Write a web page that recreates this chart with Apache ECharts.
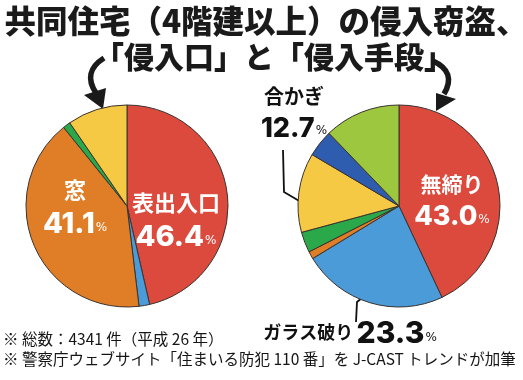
<!DOCTYPE html>
<html><head><meta charset="utf-8">
<script src="https://cdn.jsdelivr.net/npm/echarts@6/dist/echarts.min.js"></script>
<style>html,body{margin:0;padding:0;background:#fff}#c{width:523px;height:380px}</style>
</head><body><div id="c"></div>
<script>
// ---- data ----
const titleLines = ['共同住宅（4階建以上）の侵入窃盗、', '「侵入口」と「侵入手段」'];
const entryNames = ['表出入口', '非常口', '窓', 'その他', '不明'];
const entryValues = [46.4, 1.7, 41.1, 1.2, 9.6];
const methodNames = ['無締り', 'ガラス破り', '戸外し', '施錠開け', '合かぎ', 'ドア錠破り', 'その他'];
const methodValues = [43.0, 23.3, 1.2, 3.3, 12.7, 4.3, 12.2];
const footnotes = ['※ 総数：4341 件（平成 26 年）', '※ 警察庁ウェブサイト「住まいる防犯 110 番」を J-CAST トレンドが加筆'];

// ---- styles ----
const entryColors = ['#dc4a3d', '#4b9bd9', '#e07e28', '#2aa84a', '#f6c945'];
const methodColors = ['#dc4a3d', '#4b9bd9', '#e07e28', '#2aa84a', '#f6c945', '#2e5db0', '#9dc73e'];
const JP = '"Noto Sans CJK JP", sans-serif';
const NUM = 'Inter, sans-serif';

const labelTargets = [
  {0: [176, 222], 2: [75, 209]},
  {0: [452, 202], 1: [350, 334], 4: [294, 114]}
];
const labelStyle = {
  0: {0: 'in2', 2: 'in2'},
  1: {0: 'in2', 1: 'out1', 4: 'out2'}
};

function richSet(color, nameSize, numSize) {
  return {
    n: {fontFamily: JP, fontWeight: 'bold', fontSize: nameSize, color: color, lineHeight: nameSize + 10},
    v: {fontFamily: NUM, fontWeight: 800, fontSize: numSize, color: color, lineHeight: numSize + 4, verticalAlign: 'bottom'},
    p: {fontFamily: '"DejaVu Sans", sans-serif', fontSize: 12, color: color, lineHeight: numSize + 4, verticalAlign: 'bottom', padding: [0, 0, 5, 1]}
  };
}

function buildData(names, values, colors, si) {
  return names.map((n, i) => {
    const d = {name: n, value: values[i], itemStyle: {color: colors[i]}};
    const kind = labelStyle[si][i];
    if (kind) {
      const white = kind === 'in2';
      const big = si === 0;
      d.label = {
        show: true,
        position: 'inside',
        align: kind === 'out2' ? 'left' : 'center',
        rich: white ? richSet('#fff', big ? 22 : 21, big ? 29 : 27)
                    : richSet('#111', kind === 'out1' ? 18 : 20, kind === 'out1' ? 30 : 27),
        formatter: p => {
          const num = p.value.toFixed(1);
          return kind === 'out1'
            ? '{n|' + p.name + '} {v|' + num + '}{p|%}'
            : '{n|' + p.name + '}\n{v|' + num + '}{p|%}';
        }
      };
    }
    return d;
  });
}

function layoutFn(params) {
  const t = labelTargets[params.seriesIndex][params.dataIndex];
  if (!t) return {};
  const r = params.labelRect;
  return {dx: t[0] - (r.x + r.width / 2), dy: t[1] - (r.y + r.height / 2)};
}

const pieBase = {
  type: 'pie', radius: 101, startAngle: 90, clockwise: true,
  avoidLabelOverlap: false, silent: true, animation: false,
  itemStyle: {borderColor: '#3a3330', borderWidth: 1},
  label: {show: false}, labelLine: {show: false},
  labelLayout: layoutFn
};

const chart = echarts.init(document.getElementById('c'), null, {renderer: 'canvas'});
chart.setOption({
  backgroundColor: '#fff',
  animation: false,
  title: [
    {text: titleLines[0], left: 261, top: -2, textAlign: 'center',
     textStyle: {fontFamily: JP, fontWeight: 900, fontSize: 31.5, color: '#1a1a1a', lineHeight: 36}},
    {text: titleLines[1], left: 269, top: 35, textAlign: 'center',
     textStyle: {fontFamily: JP, fontWeight: 900, fontSize: 30, color: '#1a1a1a', lineHeight: 34}}
  ],
  series: [
    Object.assign({}, pieBase, {center: [127, 206], data: buildData(entryNames, entryValues, entryColors, 0)}),
    Object.assign({}, pieBase, {center: [399, 206], data: buildData(methodNames, methodValues, methodColors, 1)})
  ],
  graphic: [
    {type: 'bezierCurve', shape: {x1: 104, y1: 58, cpx1: 82, cpy1: 72, x2: 96, y2: 93}, style: {fill: null, stroke: '#1a1a1a', lineWidth: 5.5}},
    {type: 'polygon', shape: {points: [[84, 95], [106, 88], [103, 109]]}, style: {fill: '#1a1a1a'}},
    {type: 'bezierCurve', shape: {x1: 433, y1: 61, cpx1: 457, cpy1: 72, x2: 444, y2: 94}, style: {fill: null, stroke: '#1a1a1a', lineWidth: 5.5}},
    {type: 'polygon', shape: {points: [[436, 93], [456, 99], [436, 111]]}, style: {fill: '#1a1a1a'}},
    {type: 'polyline', shape: {points: [[283, 150], [284, 192], [318, 212]]}, style: {stroke: '#111', lineWidth: 1.8, fill: null}},
    {type: 'polyline', shape: {points: [[393, 273], [357, 302], [356, 322]]}, style: {stroke: '#111', lineWidth: 1.8, fill: null}},
    {type: 'text', left: 3, top: 331, style: {text: footnotes[0], font: '15.5px ' + JP, fill: '#151515'}},
    {type: 'text', left: 3, top: 351, style: {text: footnotes[1], font: '15.5px ' + JP, fill: '#151515'}}
  ]
});
</script></body></html>
